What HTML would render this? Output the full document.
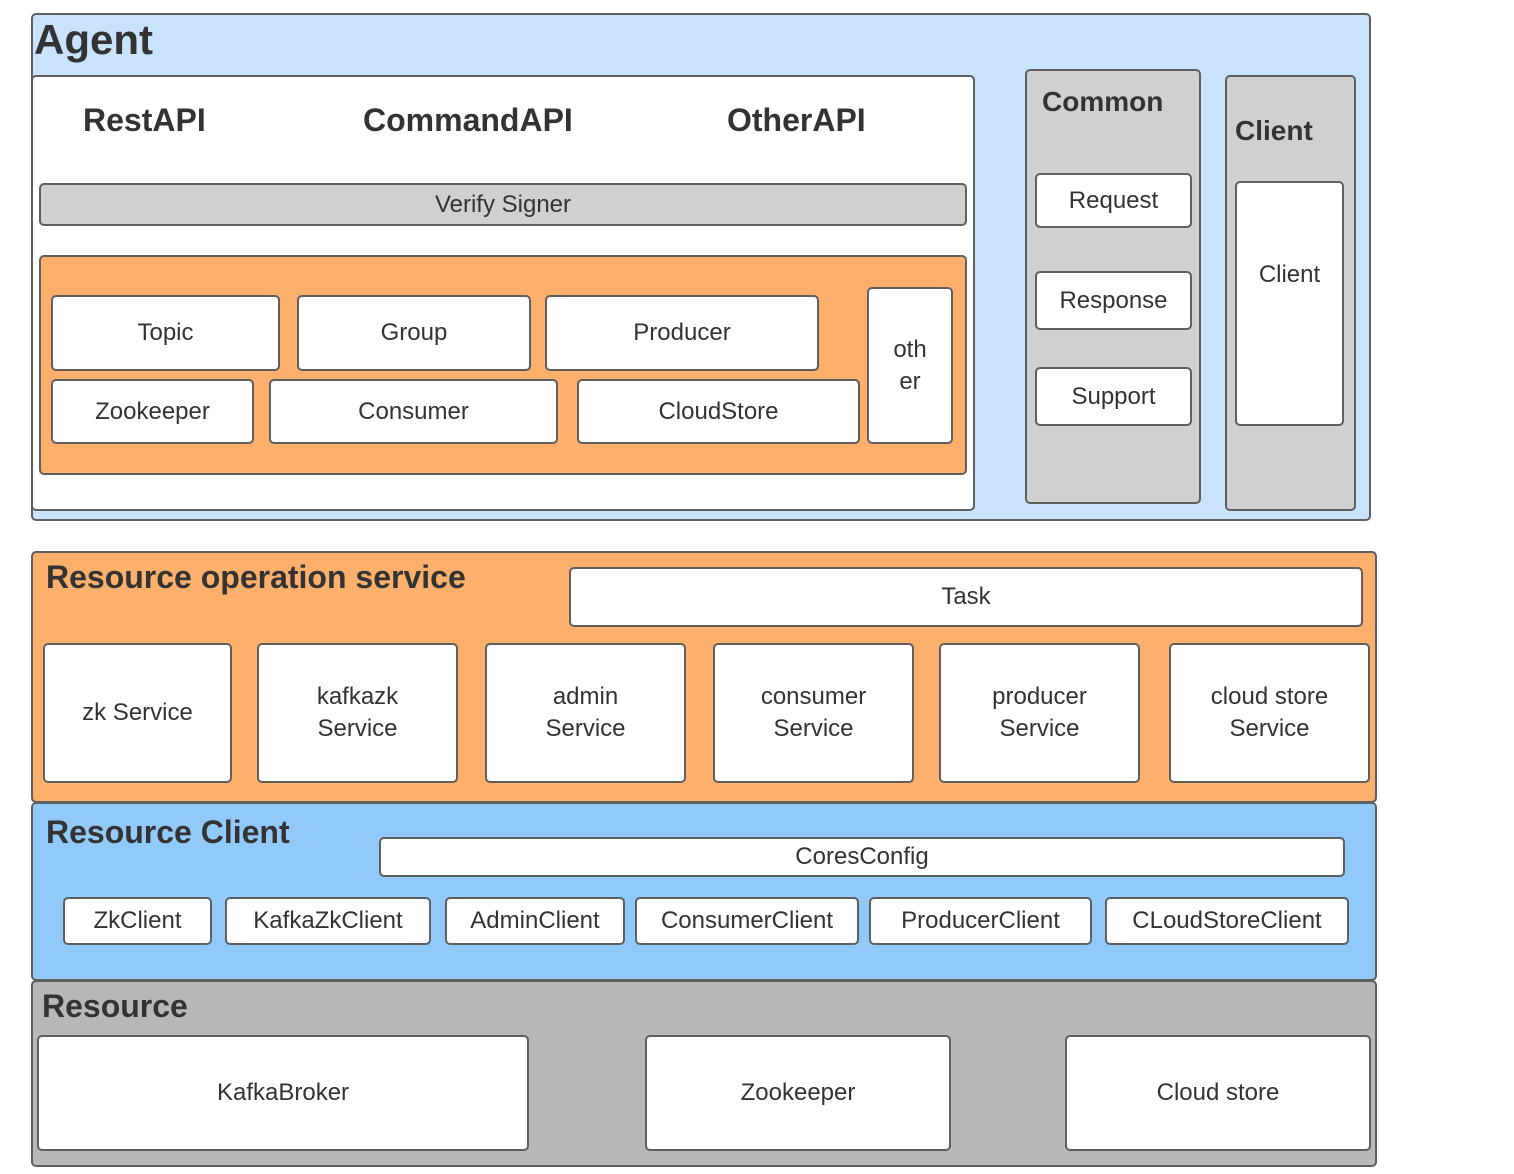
<!DOCTYPE html>
<html><head><meta charset="utf-8"><style>
body{margin:0;width:1514px;height:1174px;background:#fff;position:relative;font-family:"Liberation Sans",sans-serif;color:#333;overflow:hidden}
.b{position:absolute;box-sizing:border-box;border:2px solid #5f5f5f;border-radius:5px;display:flex;align-items:center;justify-content:center;text-align:center;font-size:24px;line-height:32px}
.t{position:absolute;font-weight:bold;white-space:nowrap;color:#333}
.w{background:#fff}
</style></head><body>
<!-- Agent -->
<div class="b" style="left:31px;top:13px;width:1340px;height:508px;background:#c8e3fb"></div>
<div class="t" style="left:34px;top:16px;font-size:42px">Agent</div>
<div class="b w" style="left:31px;top:75px;width:944px;height:436px"></div>
<div class="t" style="left:83px;top:102px;font-size:32px">RestAPI</div>
<div class="t" style="left:363px;top:102px;font-size:32px">CommandAPI</div>
<div class="t" style="left:727px;top:102px;font-size:32px">OtherAPI</div>
<div class="b" style="left:39px;top:183px;width:928px;height:43px;background:#d0d0d0">Verify Signer</div>
<div class="b" style="left:39px;top:255px;width:928px;height:220px;background:#fdb06c"></div>
<div class="b w" style="left:51px;top:295px;width:229px;height:76px">Topic</div>
<div class="b w" style="left:297px;top:295px;width:234px;height:76px">Group</div>
<div class="b w" style="left:545px;top:295px;width:274px;height:76px">Producer</div>
<div class="b w" style="left:867px;top:287px;width:86px;height:157px">oth<br>er</div>
<div class="b w" style="left:51px;top:379px;width:203px;height:65px">Zookeeper</div>
<div class="b w" style="left:269px;top:379px;width:289px;height:65px">Consumer</div>
<div class="b w" style="left:577px;top:379px;width:283px;height:65px">CloudStore</div>
<div class="b" style="left:1025px;top:69px;width:176px;height:435px;background:#d0d0d0"></div>
<div class="t" style="left:1042px;top:86px;font-size:28px">Common</div>
<div class="b w" style="left:1035px;top:173px;width:157px;height:55px">Request</div>
<div class="b w" style="left:1035px;top:271px;width:157px;height:59px">Response</div>
<div class="b w" style="left:1035px;top:367px;width:157px;height:59px">Support</div>
<div class="b" style="left:1225px;top:75px;width:131px;height:436px;background:#d0d0d0"></div>
<div class="t" style="left:1235px;top:115px;font-size:28px">Client</div>
<div class="b w" style="left:1235px;top:181px;width:109px;height:245px;align-items:flex-start;padding-top:76px">Client</div>
<!-- Resource operation -->
<div class="b" style="left:31px;top:551px;width:1346px;height:252px;background:#fdb06c"></div>
<div class="t" style="left:46px;top:559px;font-size:32px">Resource operation service</div>
<div class="b w" style="left:569px;top:567px;width:794px;height:60px">Task</div>
<div class="b w" style="left:43px;top:643px;width:189px;height:140px">zk Service</div>
<div class="b w" style="left:257px;top:643px;width:201px;height:140px">kafkazk<br>Service</div>
<div class="b w" style="left:485px;top:643px;width:201px;height:140px">admin<br>Service</div>
<div class="b w" style="left:713px;top:643px;width:201px;height:140px">consumer<br>Service</div>
<div class="b w" style="left:939px;top:643px;width:201px;height:140px">producer<br>Service</div>
<div class="b w" style="left:1169px;top:643px;width:201px;height:140px">cloud store<br>Service</div>
<!-- Resource Client -->
<div class="b" style="left:31px;top:802px;width:1346px;height:179px;background:#90c9fa"></div>
<div class="t" style="left:46px;top:814px;font-size:32px">Resource Client</div>
<div class="b w" style="left:379px;top:837px;width:966px;height:40px">CoresConfig</div>
<div class="b w" style="left:63px;top:897px;width:149px;height:48px">ZkClient</div>
<div class="b w" style="left:225px;top:897px;width:206px;height:48px">KafkaZkClient</div>
<div class="b w" style="left:445px;top:897px;width:180px;height:48px">AdminClient</div>
<div class="b w" style="left:635px;top:897px;width:224px;height:48px">ConsumerClient</div>
<div class="b w" style="left:869px;top:897px;width:223px;height:48px">ProducerClient</div>
<div class="b w" style="left:1105px;top:897px;width:244px;height:48px">CLoudStoreClient</div>
<!-- Resource -->
<div class="b" style="left:31px;top:980px;width:1346px;height:187px;background:#b8b8b8"></div>
<div class="t" style="left:42px;top:988px;font-size:32px">Resource</div>
<div class="b w" style="left:37px;top:1035px;width:492px;height:116px">KafkaBroker</div>
<div class="b w" style="left:645px;top:1035px;width:306px;height:116px">Zookeeper</div>
<div class="b w" style="left:1065px;top:1035px;width:306px;height:116px">Cloud store</div>
</body></html>
